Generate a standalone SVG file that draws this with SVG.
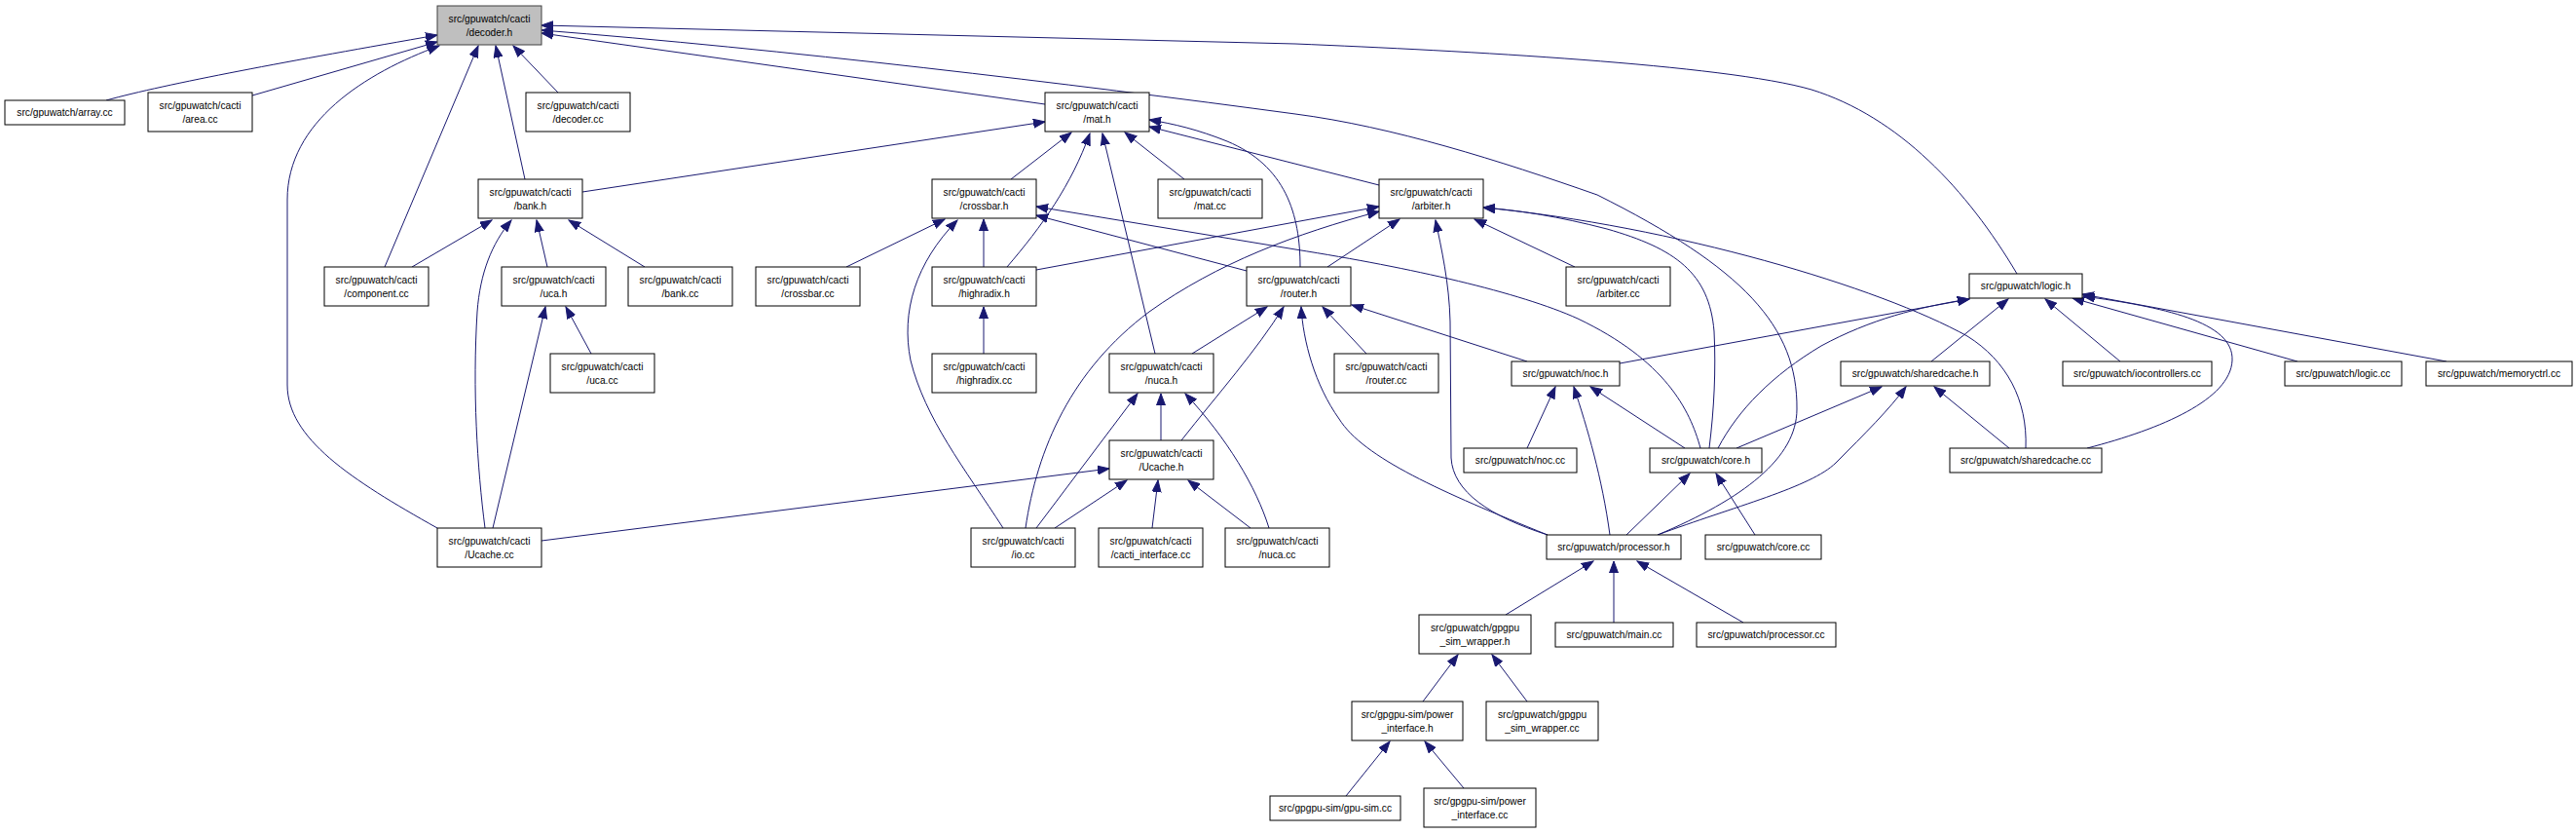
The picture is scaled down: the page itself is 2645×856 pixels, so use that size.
<svg xmlns="http://www.w3.org/2000/svg" width="2645" height="856" viewBox="0 0 2645 856">
<style>
rect{fill:#fff;stroke:#000;stroke-width:1}
rect.hl{fill:#bfbfbf;stroke:#404040}
text{font-family:"Liberation Sans",Arial,Helvetica,sans-serif;font-size:10.2px;text-anchor:middle;fill:#000}
#edges path{fill:none;stroke:#191970;stroke-width:1;marker-end:url(#ah)}
</style>
<defs>
<marker id="ah" markerUnits="userSpaceOnUse" markerWidth="13" markerHeight="10" refX="12" refY="5" orient="auto"><path d="M0,0.5 L12,5 L0,9.5 Z" fill="#191970" stroke="#191970" stroke-width="1"/></marker>
</defs>
<rect x="0" y="0" width="2645" height="856" style="fill:#fff;stroke:none"/>
<g id="edges">
<path d="M109,103 C170,86 300,62 449,36"/>
<path d="M259,98 L449,43"/>
<path d="M449,542 C360,492 295,450 295,395 L295,205 C295,125 375,75 451,47"/>
<path d="M395,274 L491,47"/>
<path d="M539,184 L509,47"/>
<path d="M573,95 L527,47"/>
<path d="M1073,107 L556,34"/>
<path d="M1702,549 C1790,512 1845,470 1845,420 C1846,335 1790,275 1640,200 C1540,165 1430,130 1330,117 C1100,86 800,50 556,31"/>
<path d="M2071,281 C2020,195 1950,120 1860,92 C1770,66 1500,52 1330,45 L556,26"/>
<path d="M598,197 L1073,125"/>
<path d="M1038,184 L1100,136"/>
<path d="M1034,274 C1070,232 1100,190 1119,137"/>
<path d="M1186,363 L1132,137"/>
<path d="M1216,184 L1155,136"/>
<path d="M1416,190 L1180,130"/>
<path d="M1335,274 C1335,220 1320,170 1260,145 C1230,133 1205,127 1180,123"/>
<path d="M869,274 L970,225"/>
<path d="M1030,542 C990,480 950,430 935,370 C925,320 940,270 983,226"/>
<path d="M1010,274 L1010,225"/>
<path d="M1280,278 L1064,221"/>
<path d="M1746,460 C1735,420 1710,370 1620,327 C1560,300 1450,275 1330,256 L1064,212"/>
<path d="M1010,363 L1010,315"/>
<path d="M1064,277 L1416,212"/>
<path d="M1053,542 C1065,460 1100,380 1180,320 C1250,270 1330,240 1416,217"/>
<path d="M1363,274 L1437,225"/>
<path d="M1589,549 C1530,530 1492,505 1490,470 L1489,330 C1488,290 1480,255 1474,226"/>
<path d="M1617,274 L1514,225"/>
<path d="M1755,460 C1760,420 1762,380 1760,340 C1755,280 1720,255 1650,235 C1600,222 1560,216 1523,213"/>
<path d="M2080,460 C2082,410 2060,370 2020,345 C1930,295 1720,232 1523,213"/>
<path d="M423,274 L505,226"/>
<path d="M498,542 C490,480 485,400 490,320 C493,280 505,250 525,226"/>
<path d="M562,274 L551,226"/>
<path d="M662,274 L584,226"/>
<path d="M506,542 L560,315"/>
<path d="M607,363 L581,315"/>
<path d="M556,555 L1139,481"/>
<path d="M1083,542 L1157,493"/>
<path d="M1183,542 L1189,493"/>
<path d="M1284,542 L1220,493"/>
<path d="M1192,452 L1192,404"/>
<path d="M1064,542 L1168,404"/>
<path d="M1303,542 C1290,500 1260,450 1217,404"/>
<path d="M1224,363 L1301,315"/>
<path d="M1213,452 C1250,405 1290,360 1318,315"/>
<path d="M1589,549 C1480,505 1400,470 1375,430 C1350,395 1338,350 1336,315"/>
<path d="M1403,363 L1358,315"/>
<path d="M1568,371 L1388,313"/>
<path d="M1568,460 L1597,397"/>
<path d="M1653,549 C1645,490 1630,440 1616,397"/>
<path d="M1730,460 L1633,397"/>
<path d="M1663,373 L2022,307"/>
<path d="M1764,460 C1785,420 1820,385 1870,355 C1920,328 1970,315 2022,307"/>
<path d="M1983,371 L2062,307"/>
<path d="M2177,371 L2100,307"/>
<path d="M2359,371 L2128,306"/>
<path d="M2512,371 L2138,302"/>
<path d="M2143,460 C2220,440 2290,410 2292,370 C2294,330 2220,315 2139,304"/>
<path d="M1783,460 L1932,397"/>
<path d="M1702,549 C1780,520 1860,500 1885,475 C1915,445 1940,420 1957,397"/>
<path d="M2063,460 L1986,397"/>
<path d="M1670,549 L1735,486"/>
<path d="M1802,549 L1762,486"/>
<path d="M1546,631 L1636,576"/>
<path d="M1657,639 L1657,576"/>
<path d="M1790,639 L1681,576"/>
<path d="M1461,720 L1497,672"/>
<path d="M1568,720 L1532,672"/>
<path d="M1382,817 L1427,761"/>
<path d="M1503,809 L1463,761"/>
</g>
<g id="decoder_h"><rect class="hl" x="449" y="6" width="107" height="40"/><text x="502.5" y="22.5">src/gpuwatch/cacti</text><text x="502.5" y="36.5">/decoder.h</text></g>
<g id="array_cc"><rect x="5" y="103" width="123" height="25"/><text x="66.5" y="119">src/gpuwatch/array.cc</text></g>
<g id="area_cc"><rect x="152" y="95" width="107" height="40"/><text x="205.5" y="111.5">src/gpuwatch/cacti</text><text x="205.5" y="125.5">/area.cc</text></g>
<g id="decoder_cc"><rect x="540" y="95" width="107" height="40"/><text x="593.5" y="111.5">src/gpuwatch/cacti</text><text x="593.5" y="125.5">/decoder.cc</text></g>
<g id="mat_h"><rect x="1073" y="95" width="107" height="40"/><text x="1126.5" y="111.5">src/gpuwatch/cacti</text><text x="1126.5" y="125.5">/mat.h</text></g>
<g id="logic_h"><rect x="2022" y="281" width="116" height="25"/><text x="2080" y="297">src/gpuwatch/logic.h</text></g>
<g id="bank_h"><rect x="491" y="184" width="107" height="40"/><text x="544.5" y="200.5">src/gpuwatch/cacti</text><text x="544.5" y="214.5">/bank.h</text></g>
<g id="crossbar_h"><rect x="957" y="184" width="107" height="40"/><text x="1010.5" y="200.5">src/gpuwatch/cacti</text><text x="1010.5" y="214.5">/crossbar.h</text></g>
<g id="mat_cc"><rect x="1189" y="184" width="107" height="40"/><text x="1242.5" y="200.5">src/gpuwatch/cacti</text><text x="1242.5" y="214.5">/mat.cc</text></g>
<g id="arbiter_h"><rect x="1416" y="184" width="107" height="40"/><text x="1469.5" y="200.5">src/gpuwatch/cacti</text><text x="1469.5" y="214.5">/arbiter.h</text></g>
<g id="component_cc"><rect x="333" y="274" width="107" height="40"/><text x="386.5" y="290.5">src/gpuwatch/cacti</text><text x="386.5" y="304.5">/component.cc</text></g>
<g id="uca_h"><rect x="515" y="274" width="107" height="40"/><text x="568.5" y="290.5">src/gpuwatch/cacti</text><text x="568.5" y="304.5">/uca.h</text></g>
<g id="bank_cc"><rect x="645" y="274" width="107" height="40"/><text x="698.5" y="290.5">src/gpuwatch/cacti</text><text x="698.5" y="304.5">/bank.cc</text></g>
<g id="crossbar_cc"><rect x="776" y="274" width="107" height="40"/><text x="829.5" y="290.5">src/gpuwatch/cacti</text><text x="829.5" y="304.5">/crossbar.cc</text></g>
<g id="highradix_h"><rect x="957" y="274" width="107" height="40"/><text x="1010.5" y="290.5">src/gpuwatch/cacti</text><text x="1010.5" y="304.5">/highradix.h</text></g>
<g id="router_h"><rect x="1280" y="274" width="107" height="40"/><text x="1333.5" y="290.5">src/gpuwatch/cacti</text><text x="1333.5" y="304.5">/router.h</text></g>
<g id="arbiter_cc"><rect x="1608" y="274" width="107" height="40"/><text x="1661.5" y="290.5">src/gpuwatch/cacti</text><text x="1661.5" y="304.5">/arbiter.cc</text></g>
<g id="uca_cc"><rect x="565" y="363" width="107" height="40"/><text x="618.5" y="379.5">src/gpuwatch/cacti</text><text x="618.5" y="393.5">/uca.cc</text></g>
<g id="highradix_cc"><rect x="957" y="363" width="107" height="40"/><text x="1010.5" y="379.5">src/gpuwatch/cacti</text><text x="1010.5" y="393.5">/highradix.cc</text></g>
<g id="nuca_h"><rect x="1139" y="363" width="107" height="40"/><text x="1192.5" y="379.5">src/gpuwatch/cacti</text><text x="1192.5" y="393.5">/nuca.h</text></g>
<g id="router_cc"><rect x="1370" y="363" width="107" height="40"/><text x="1423.5" y="379.5">src/gpuwatch/cacti</text><text x="1423.5" y="393.5">/router.cc</text></g>
<g id="noc_h"><rect x="1552" y="371" width="111" height="25"/><text x="1607.5" y="387">src/gpuwatch/noc.h</text></g>
<g id="sharedcache_h"><rect x="1890" y="371" width="153" height="25"/><text x="1966.5" y="387">src/gpuwatch/sharedcache.h</text></g>
<g id="iocontrollers_cc"><rect x="2118" y="371" width="153" height="25"/><text x="2194.5" y="387">src/gpuwatch/iocontrollers.cc</text></g>
<g id="logic_cc"><rect x="2346" y="371" width="120" height="25"/><text x="2406" y="387">src/gpuwatch/logic.cc</text></g>
<g id="memoryctrl_cc"><rect x="2491" y="371" width="150" height="25"/><text x="2566" y="387">src/gpuwatch/memoryctrl.cc</text></g>
<g id="Ucache_h"><rect x="1139" y="452" width="107" height="40"/><text x="1192.5" y="468.5">src/gpuwatch/cacti</text><text x="1192.5" y="482.5">/Ucache.h</text></g>
<g id="noc_cc"><rect x="1503" y="460" width="116" height="25"/><text x="1561" y="476">src/gpuwatch/noc.cc</text></g>
<g id="core_h"><rect x="1694" y="460" width="115" height="25"/><text x="1751.5" y="476">src/gpuwatch/core.h</text></g>
<g id="sharedcache_cc"><rect x="2002" y="460" width="156" height="25"/><text x="2080" y="476">src/gpuwatch/sharedcache.cc</text></g>
<g id="Ucache_cc"><rect x="449" y="542" width="107" height="40"/><text x="502.5" y="558.5">src/gpuwatch/cacti</text><text x="502.5" y="572.5">/Ucache.cc</text></g>
<g id="io_cc"><rect x="997" y="542" width="107" height="40"/><text x="1050.5" y="558.5">src/gpuwatch/cacti</text><text x="1050.5" y="572.5">/io.cc</text></g>
<g id="cacti_interface_cc"><rect x="1128" y="542" width="107" height="40"/><text x="1181.5" y="558.5">src/gpuwatch/cacti</text><text x="1181.5" y="572.5">/cacti_interface.cc</text></g>
<g id="nuca_cc"><rect x="1258" y="542" width="107" height="40"/><text x="1311.5" y="558.5">src/gpuwatch/cacti</text><text x="1311.5" y="572.5">/nuca.cc</text></g>
<g id="processor_h"><rect x="1588" y="549" width="138" height="25"/><text x="1657" y="565">src/gpuwatch/processor.h</text></g>
<g id="core_cc"><rect x="1751" y="549" width="119" height="25"/><text x="1810.5" y="565">src/gpuwatch/core.cc</text></g>
<g id="gpgpu_sim_wrapper_h"><rect x="1457" y="631" width="115" height="40"/><text x="1514.5" y="647.5">src/gpuwatch/gpgpu</text><text x="1514.5" y="661.5">_sim_wrapper.h</text></g>
<g id="main_cc"><rect x="1597" y="639" width="121" height="25"/><text x="1657.5" y="655">src/gpuwatch/main.cc</text></g>
<g id="processor_cc"><rect x="1742" y="639" width="143" height="25"/><text x="1813.5" y="655">src/gpuwatch/processor.cc</text></g>
<g id="power_interface_h"><rect x="1388" y="720" width="114" height="40"/><text x="1445" y="736.5">src/gpgpu-sim/power</text><text x="1445" y="750.5">_interface.h</text></g>
<g id="gpgpu_sim_wrapper_cc"><rect x="1526" y="720" width="115" height="40"/><text x="1583.5" y="736.5">src/gpuwatch/gpgpu</text><text x="1583.5" y="750.5">_sim_wrapper.cc</text></g>
<g id="gpu_sim_cc"><rect x="1304" y="817" width="134" height="25"/><text x="1371" y="833">src/gpgpu-sim/gpu-sim.cc</text></g>
<g id="power_interface_cc"><rect x="1462" y="809" width="115" height="40"/><text x="1519.5" y="825.5">src/gpgpu-sim/power</text><text x="1519.5" y="839.5">_interface.cc</text></g>
</svg>
